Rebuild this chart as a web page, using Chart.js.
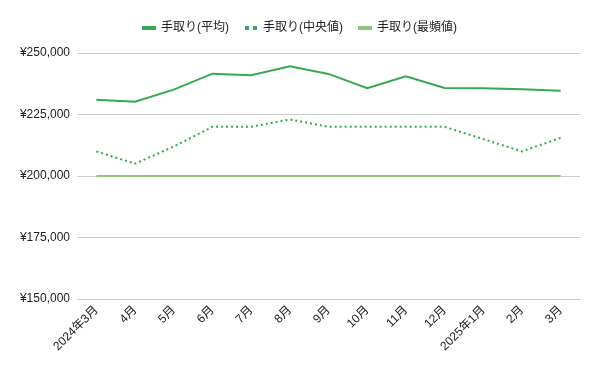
<!DOCTYPE html>
<html>
<head>
<meta charset="utf-8">
<script src="https://cdn.jsdelivr.net/npm/chart.js@4"></script>
<style>
  html, body { margin: 0; padding: 0; background: #fff; }
  #wrap { width: 600px; height: 371px; }
</style>
</head>
<body>
<div id="wrap"><canvas id="chart"></canvas></div>
<script>
const months = ['2024年3月', '4月', '5月', '6月', '7月', '8月', '9月', '10月', '11月', '12月', '2025年1月', '2月', '3月'];
const averagePay = [231000, 230200, 235100, 241600, 241000, 244600, 241500, 235700, 240500, 235800, 235700, 235300, 234700];
const medianPay = [210000, 205000, 212000, 220000, 220000, 223000, 220000, 220000, 220000, 220000, 215000, 210000, 215500];
const modePay = [200000, 200000, 200000, 200000, 200000, 200000, 200000, 200000, 200000, 200000, 200000, 200000, 200000];
const yTicks = [150000, 175000, 200000, 225000, 250000];

const colors = {
    average: '#34a853',
    median: '#34a853',
    mode: '#93c47d',
    text: '#222222',
    grid: '#cccccc'
};

// small legend markers
const marker = (draw) => {
    const c = document.createElement('canvas');
    c.width = 14; c.height = 6;
    draw(c.getContext('2d'));
    return c;
};
const solidMark = (color) => marker(ctx => { ctx.fillStyle = color; ctx.fillRect(0, 1, 14, 4); });
const dotMark = marker(ctx => {
    ctx.fillStyle = colors.median;
    ctx.fillRect(1, 1, 4, 4);
    ctx.fillRect(9, 1, 4, 4);
});

// a bit more room under the legend
const legendGap = {
    id: 'legendGap',
    beforeInit(chart) {
        const fit = chart.legend.fit;
        chart.legend.fit = function () {
            fit.bind(chart.legend)();
            this.height += 9;
        };
    }
};

Chart.defaults.font.family = "'Liberation Sans', 'Noto Sans CJK JP', sans-serif";
Chart.defaults.color = colors.text;

new Chart(document.getElementById('chart').getContext('2d'), {
    type: 'line',
    data: {
        labels: months,
        datasets: [
            {
                label: '手取り(平均)',
                data: averagePay,
                borderColor: colors.average,
                backgroundColor: colors.average,
                borderWidth: 2,
                pointRadius: 0,
                pointStyle: solidMark(colors.average),
                tension: 0
            },
            {
                label: '手取り(中央値)',
                data: medianPay,
                borderColor: colors.median,
                backgroundColor: colors.median,
                borderWidth: 2,
                borderDash: [2, 3],
                pointRadius: 0,
                pointStyle: dotMark,
                tension: 0
            },
            {
                label: '手取り(最頻値)',
                data: modePay,
                borderColor: colors.mode,
                backgroundColor: colors.mode,
                borderWidth: 2,
                pointRadius: 0,
                pointStyle: solidMark(colors.mode),
                tension: 0
            }
        ]
    },
    plugins: [legendGap],
    options: {
        responsive: true,
        maintainAspectRatio: false,
        animation: false,
        layout: { padding: { left: 0, right: 0, top: 6, bottom: 0 } },
        plugins: {
            legend: {
                position: 'top',
                labels: {
                    usePointStyle: true,
                    padding: 16,
                    font: { size: 12 },
                    color: colors.text
                }
            },
            tooltip: { enabled: false }
        },
        scales: {
            x: {
                offset: true,
                grid: { display: false, drawTicks: false },
                border: { display: false },
                ticks: {
                    autoSkip: false,
                    maxRotation: 45,
                    minRotation: 45,
                    padding: 4,
                    font: { size: 12 },
                    color: colors.text
                },
                afterFit: (axis) => { axis.height = 72; }
            },
            y: {
                min: 150000,
                max: 250000,
                afterBuildTicks: (axis) => { axis.ticks = yTicks.map(v => ({ value: v })); },
                grid: { color: colors.grid, drawTicks: false },
                border: { display: false },
                ticks: {
                    padding: 7,
                    font: { size: 12 },
                    color: colors.text,
                    callback: (v) => '¥' + v.toLocaleString('en-US')
                },
                afterFit: (axis) => { axis.width = 77; }
            },
            // empty right margin so the legend stays centred on the page
            yRight: {
                position: 'right',
                display: true,
                grid: { display: false, drawTicks: false },
                border: { display: false },
                ticks: { display: false },
                afterFit: (axis) => { axis.width = 20; }
            }
        }
    }
});
</script>
</body>
</html>
